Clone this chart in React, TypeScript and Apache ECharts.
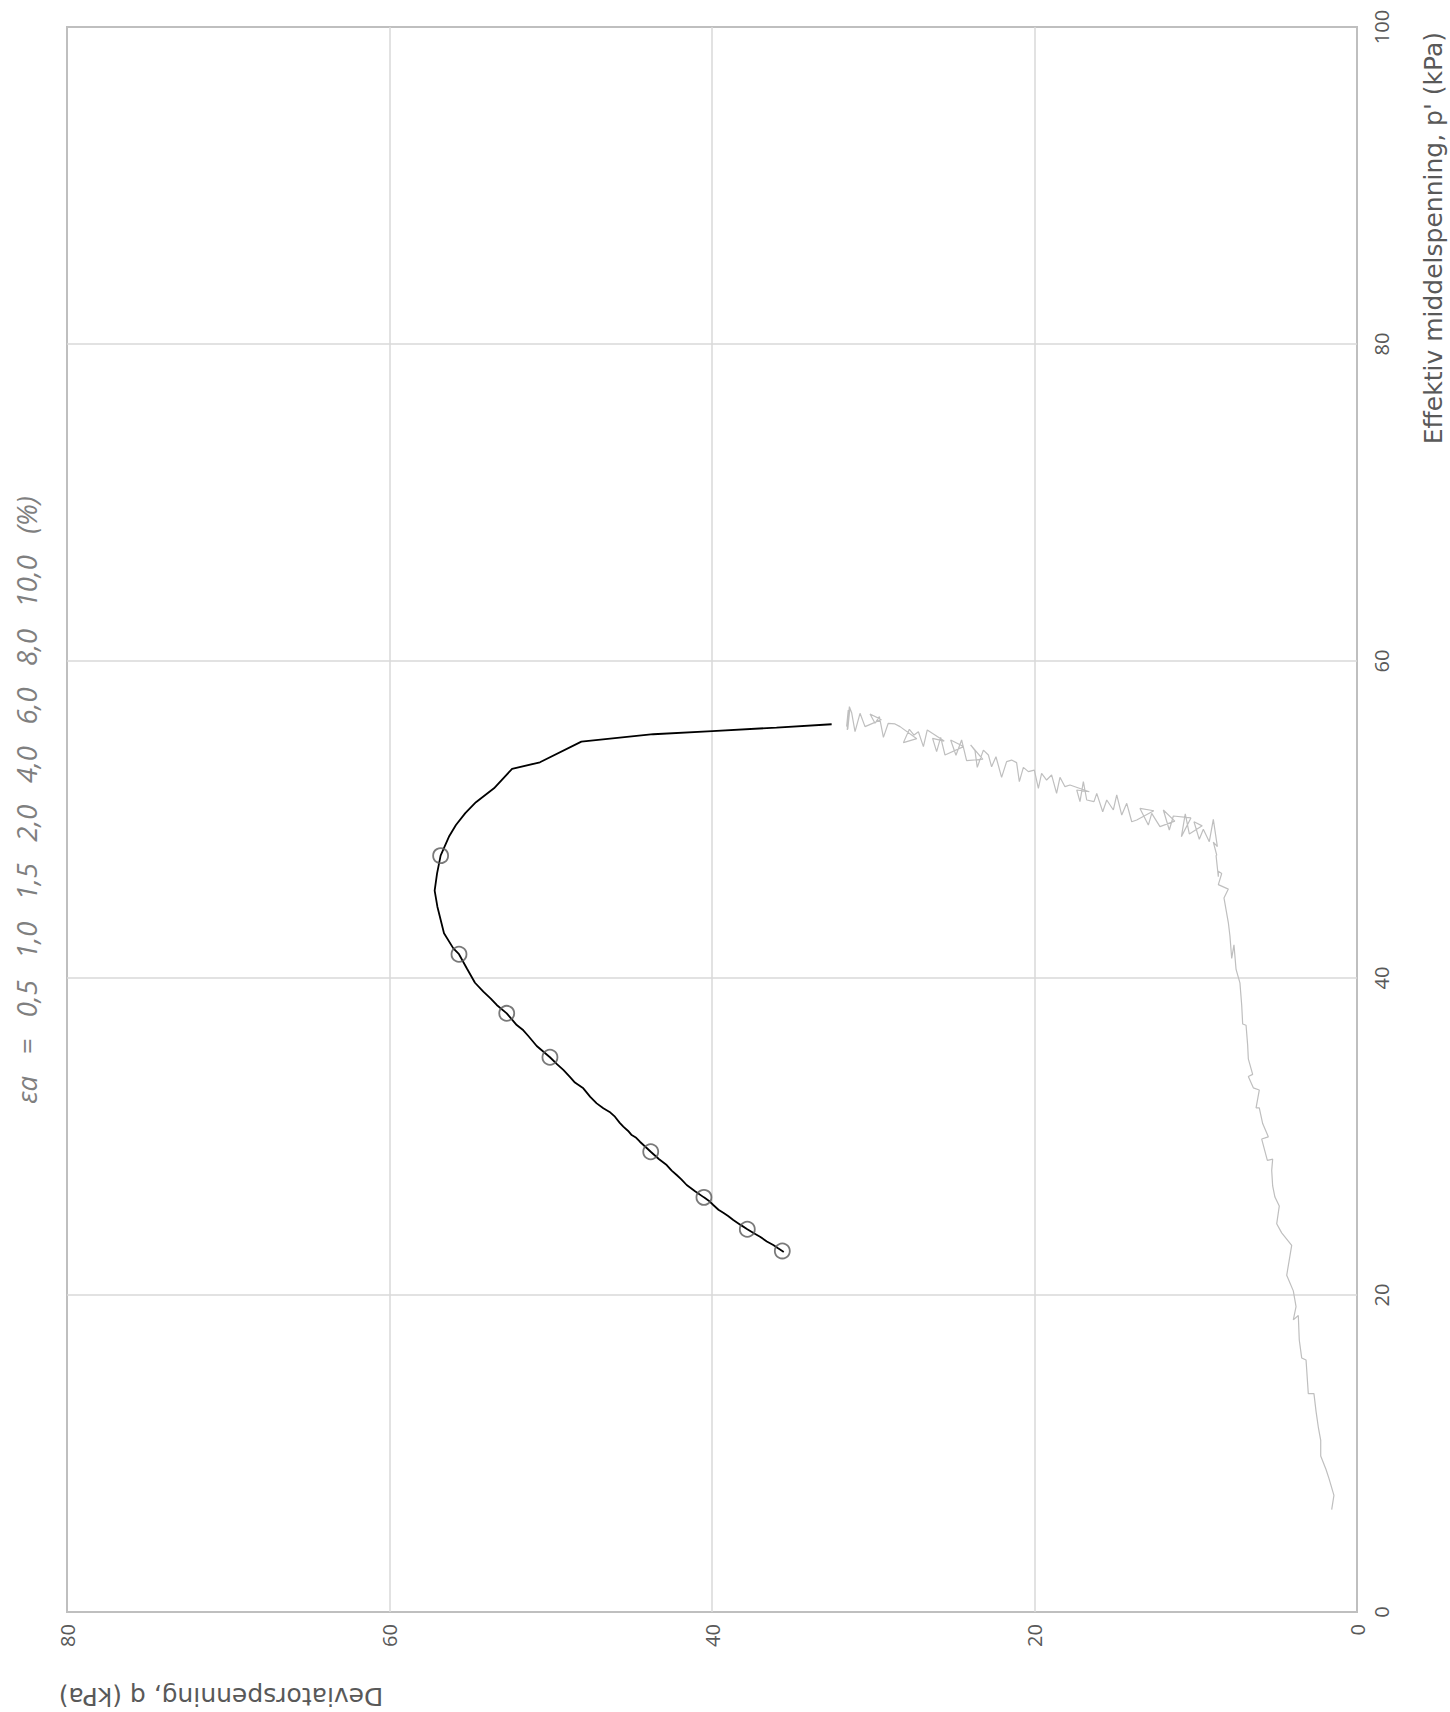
import React, { useEffect, useRef } from "react";
import * as echarts from "echarts";

// All data pairs are [q (kPa), p' (kPa)]
const Q_RANGE = [0, 80];
const P_RANGE = [0, 100];
const TICK_STEP = 20;

const Q_TITLE = "Deviatorspenning, q (kPa)";
const P_TITLE = "Effektiv middelspenning, p' (kPa)";
const STRAIN_LEVELS = ["0,5", "1,0", "1,5", "2,0", "4,0", "6,0", "8,0", "10,0"];

// Consolidation path (grey): rises steeply, then a noisy segment
const CONSOLIDATION_PATH = [
  [1.57, 6.46], [1.43, 7.36], [1.74, 8.43], [1.92, 8.99], [2.25, 9.84], [2.25, 10.83],
  [2.40, 11.67], [2.54, 12.66], [2.67, 13.78], [3.02, 13.78], [3.16, 15.90], [3.43, 16.03],
  [3.58, 17.16], [3.64, 18.71], [3.95, 18.43], [3.78, 19.27], [3.95, 20.26], [4.36, 21.24],
  [4.05, 23.13], [4.67, 23.92], [4.98, 24.49], [4.82, 25.61], [5.09, 26.18], [5.23, 26.88],
  [5.29, 27.86], [5.23, 28.57], [5.56, 28.49], [5.91, 29.84], [5.50, 29.98], [5.85, 30.82],
  [6.06, 31.80], [6.26, 31.80], [6.06, 32.93], [6.43, 33.07], [6.74, 33.78], [6.47, 33.92],
  [6.74, 34.90], [6.78, 35.75], [6.88, 37.02], [7.09, 37.10], [7.15, 38.28], [7.26, 39.69],
  [7.50, 40.54], [7.63, 42.09], [7.77, 41.24], [7.88, 42.65], [7.98, 43.50], [8.25, 45.05],
  [7.98, 45.61], [8.60, 45.89], [8.39, 46.59], [8.60, 46.73], [8.60, 46.39], [8.74, 47.72],
  [8.70, 47.76], [8.91, 48.57],
  [8.66, 48.29], [8.91, 50.01], [9.16, 48.60], [9.53, 49.38], [9.78, 48.75], [10.11, 49.86],
  [9.60, 49.60], [10.40, 49.09], [10.65, 50.35], [10.89, 48.92], [10.30, 50.10], [11.39, 50.22],
  [11.64, 49.34], [12.01, 50.60], [11.30, 49.90], [12.22, 49.55], [12.73, 50.39], [12.94, 49.65],
  [13.46, 50.70], [12.60, 50.55], [13.66, 49.97], [13.97, 49.86], [14.28, 51.02], [14.59, 50.28],
  [14.90, 51.55], [15.11, 50.60], [15.52, 51.23], [15.77, 50.49], [16.14, 51.65], [16.31, 51.13],
  [16.76, 51.23], [16.97, 52.39], [17.18, 51.13], [17.38, 51.86], [16.60, 51.75], [17.80, 52.18],
  [18.11, 52.07], [18.42, 52.66], [18.63, 51.65], [18.94, 52.81], [19.25, 52.49], [19.56, 52.91],
  [19.76, 51.97], [20.01, 53.12], [20.38, 53.02], [20.69, 53.29], [20.94, 52.39], [21.11, 53.59],
  [21.42, 53.75], [21.73, 53.65], [22.04, 52.66], [22.39, 53.96], [22.66, 53.33], [22.86, 54.07],
  [23.17, 54.38], [23.55, 53.29], [23.69, 54.34], [23.96, 54.70], [23.20, 53.80], [24.21, 53.71],
  [24.52, 55.02], [24.87, 54.05], [25.20, 55.02], [24.40, 54.60], [25.55, 54.07], [25.82, 55.18],
  [26.07, 54.28], [26.32, 55.12], [25.60, 54.95], [26.65, 55.65], [26.89, 54.60], [27.20, 55.54],
  [27.47, 55.33], [27.76, 55.69], [28.13, 54.85], [27.30, 55.10], [28.34, 55.86], [28.65, 56.03],
  [29.07, 56.07], [29.37, 55.18], [29.62, 56.49], [29.89, 56.07], [30.20, 56.66], [29.50, 56.30],
  [30.51, 55.86], [30.82, 56.70], [31.13, 55.54], [31.34, 56.74], [31.48, 57.12], [31.61, 55.65],
  [31.55, 56.91], [31.65, 55.86], [31.50, 56.80], [31.62, 55.95], [31.45, 57.00], [31.58, 55.70]
];

// Undrained shear path (black)
const SHEAR_PATH = [
  [32.58, 56.01], [36.00, 55.80], [39.98, 55.58], [43.64, 55.38], [48.10, 54.91], [50.67, 53.61],
  [52.40, 53.19], [53.52, 51.97], [54.64, 51.09], [55.30, 50.40], [55.88, 49.65], [56.29, 48.96],
  [56.83, 47.72], [57.05, 46.60], [57.20, 45.51], [57.03, 44.50], [56.62, 42.82], [56.04, 41.87],
  [55.69, 41.50], [55.20, 40.60], [54.70, 39.70], [54.18, 39.14], [53.72, 38.70], [53.35, 38.30],
  [52.73, 37.77], [52.11, 37.03], [51.70, 36.70], [51.39, 36.34], [50.87, 35.71], [50.05, 35.00],
  [49.60, 34.55], [49.22, 34.20], [48.80, 33.75], [48.50, 33.40], [47.98, 33.04], [47.55, 32.50],
  [47.15, 32.09], [46.74, 31.78], [46.35, 31.55], [46.02, 31.25], [45.72, 30.86], [45.50, 30.62],
  [45.20, 30.35], [44.98, 30.09], [44.70, 29.92], [44.47, 29.67], [44.10, 29.32], [43.80, 29.04],
  [43.30, 28.58], [42.81, 28.20], [42.50, 27.85], [42.19, 27.57], [41.90, 27.30], [41.57, 26.94],
  [41.05, 26.55], [40.50, 26.16], [40.20, 25.95], [39.92, 25.68], [39.60, 25.38], [39.30, 25.19],
  [39.00, 24.98], [38.68, 24.73], [38.25, 24.44], [37.81, 24.15], [37.40, 23.90], [37.02, 23.68],
  [36.60, 23.38], [36.20, 23.15], [35.90, 22.95], [35.55, 22.72]
];

// Points at axial strain 0,5 / 1,0 / 1,5 / 2,0 / 4,0 / 6,0 / 8,0 / 10,0 %
const STRAIN_MARKERS = [
  [56.83, 47.72], [55.69, 41.50], [52.73, 37.77], [50.05, 35.00],
  [43.80, 29.04], [40.50, 26.16], [37.81, 24.15], [35.64, 22.78]
];

const FONT = '"Open Sans", "DejaVu Sans", sans-serif';
const TITLE_FONT = '"DejaVu Sans", sans-serif';

export default function App() {
  const ref = useRef<HTMLDivElement>(null);

  useEffect(() => {
    if (!ref.current) return;
    const chart = echarts.init(ref.current, undefined, { renderer: "svg" });
    const gap = "\u00A0\u00A0\u00A0";
    const strainText = "\u03B5a" + gap + "=" + gap + STRAIN_LEVELS.join(gap) + gap + "(%)";
    chart.setOption({
      animation: false,
      backgroundColor: "#ffffff",
      grid: {
        left: 67,
        right: 93,
        top: 27,
        bottom: 100,
        show: true,
        borderColor: "#BFBFBF",
        borderWidth: 2,
        backgroundColor: "transparent",
      },
      xAxis: {
        type: "value",
        min: Q_RANGE[0],
        max: Q_RANGE[1],
        interval: TICK_STEP,
        inverse: true,
        position: "bottom",
        axisLine: { show: false },
        axisTick: { show: false },
        axisLabel: { rotate: 90, color: "#595959", fontSize: 20, fontFamily: FONT, margin: 12 },
        splitLine: {
          show: true,
          showMinLine: false,
          showMaxLine: false,
          lineStyle: { color: "#D9D9D9", width: 1.5 },
        },
      },
      yAxis: {
        type: "value",
        min: P_RANGE[0],
        max: P_RANGE[1],
        interval: TICK_STEP,
        position: "right",
        axisLine: { show: false },
        axisTick: { show: false },
        axisLabel: { rotate: 90, color: "#595959", fontSize: 20, fontFamily: FONT, margin: 14 },
        splitLine: {
          show: true,
          showMinLine: false,
          showMaxLine: false,
          lineStyle: { color: "#D9D9D9", width: 1.5 },
        },
      },
      graphic: [
        {
          type: "text",
          x: 26,
          y: 800,
          rotation: Math.PI / 2,
          style: {
            text: strainText,
            fill: "#7F7F7F",
            font: `italic 27.5px ${FONT}`,
            align: "center",
            verticalAlign: "middle",
          },
        },
        {
          type: "text",
          x: 1433,
          y: 32,
          rotation: Math.PI / 2,
          style: {
            text: P_TITLE,
            fill: "#595959",
            font: `25px ${TITLE_FONT}`,
            align: "right",
            verticalAlign: "middle",
          },
        },
        {
          type: "text",
          x: 221,
          y: 1696,
          rotation: Math.PI,
          style: {
            text: Q_TITLE,
            fill: "#595959",
            font: `25px ${TITLE_FONT}`,
            align: "center",
            verticalAlign: "middle",
          },
        },
      ],
      series: [
        {
          type: "line",
          data: CONSOLIDATION_PATH,
          symbol: "none",
          lineStyle: { color: "#BFBFBF", width: 1.2 },
          z: 2,
        },
        {
          type: "line",
          data: SHEAR_PATH,
          symbol: "none",
          lineStyle: { color: "#000000", width: 1.8 },
          z: 3,
        },
        {
          type: "scatter",
          data: STRAIN_MARKERS,
          symbol: "circle",
          symbolSize: 15,
          itemStyle: { color: "rgba(0,0,0,0)", borderColor: "#595959", borderWidth: 1.8 },
          z: 4,
        },
      ],
    });
    return () => chart.dispose();
  }, []);

  return (
    <div
      ref={ref}
      style={{ position: "absolute", left: 0, top: 0, width: 1450, height: 1712 }}
    />
  );
}
